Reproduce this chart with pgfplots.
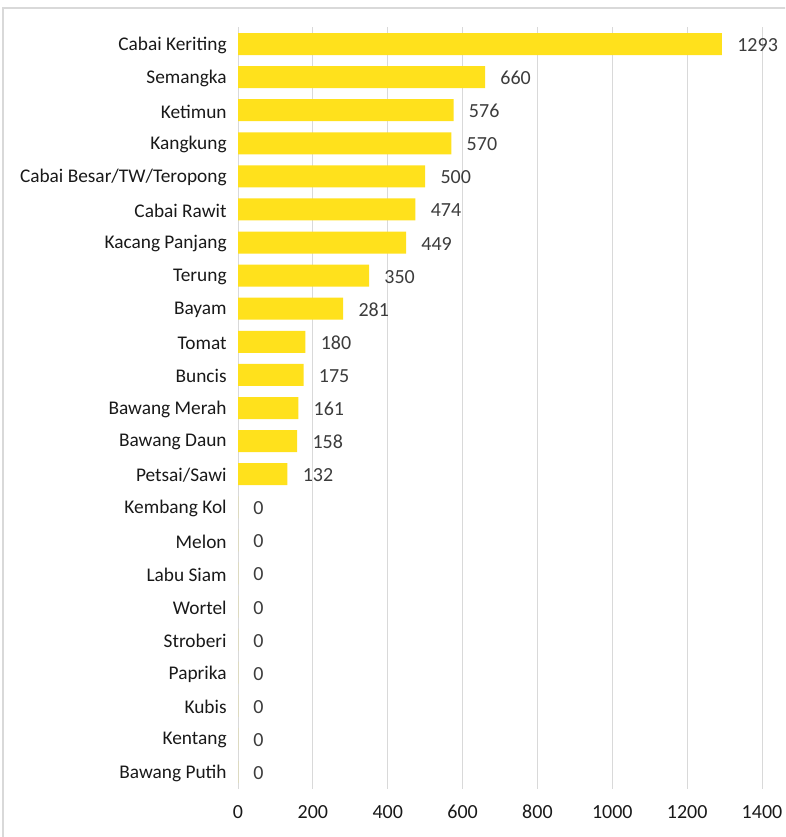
\documentclass[border=0pt]{standalone}
\usepackage{pgfplots}
\pgfplotsset{compat=1.18}
\usepackage{fontspec}
\setmainfont{Carlito}
\definecolor{baryellow}{RGB}{255,225,28}
\definecolor{lbl}{RGB}{25,25,25}
\definecolor{dlbl}{RGB}{60,60,60}
\definecolor{gridc}{RGB}{217,217,217}
\begin{document}
\begin{tikzpicture}
\useasboundingbox (0pt,0pt) rectangle (588.75pt,627.75pt);
\clip (0pt,0pt) rectangle (588.75pt,627.75pt);
\draw[gridc, line width=1.1pt] (2.25pt,-10pt) -- (2.25pt,621.75pt) -- (600pt,621.75pt);
\begin{axis}[
  at={(178.5pt,36.375pt)}, anchor=south west,
  scale only axis,
  width=393pt, height=570.75pt,
  xbar, bar width=16.5pt,
  xmin=0, xmax=1400,
  ymin=-0.5, ymax=22.5,
  y dir=reverse,
  ytick={0,...,22},
  yticklabels={Cabai Keriting,Semangka,Ketimun,Kangkung,Cabai Besar/TW/Teropong,Cabai Rawit,Kacang Panjang,Terung,Bayam,Tomat,Buncis,Bawang Merah,Bawang Daun,Petsai/Sawi,Kembang Kol,Melon,Labu Siam,Wortel,Stroberi,Paprika,Kubis,Kentang,Bawang Putih},
  xtick={0,200,...,1400},
  xticklabel style={/pgf/number format/fixed, /pgf/number format/1000 sep={}},
  xmajorgrids, grid style={gridc, line width=0.75pt},
  axis line style={draw=none},
  tick style={draw=none},
  major tick length=0pt,
  yticklabel style={font=\fontsize{14.5}{16}\selectfont, text=lbl, xshift=-5pt, yshift=-1pt},
  xticklabel style={font=\fontsize{15}{16}\selectfont, text=lbl, yshift=-9pt},
  /pgf/number format/assume math mode=true,
  nodes near coords,
  nodes near coords style={font=\fontsize{15}{16}\selectfont, text=dlbl, anchor=west, xshift=8pt, yshift=-0.8pt},
  every node near coord/.append style={/pgf/number format/fixed, /pgf/number format/1000 sep={}},
  clip=false,
]
\addplot[fill=baryellow, draw=none] coordinates {
(1293,0) (660,1) (576,2) (570,3) (500,4) (474,5) (449,6) (350,7) (281,8) (180,9) (175,10) (161,11) (158,12) (132,13) (0,14) (0,15) (0,16) (0,17) (0,18) (0,19) (0,20) (0,21) (0,22)
};
\end{axis}
\end{tikzpicture}
\end{document}
